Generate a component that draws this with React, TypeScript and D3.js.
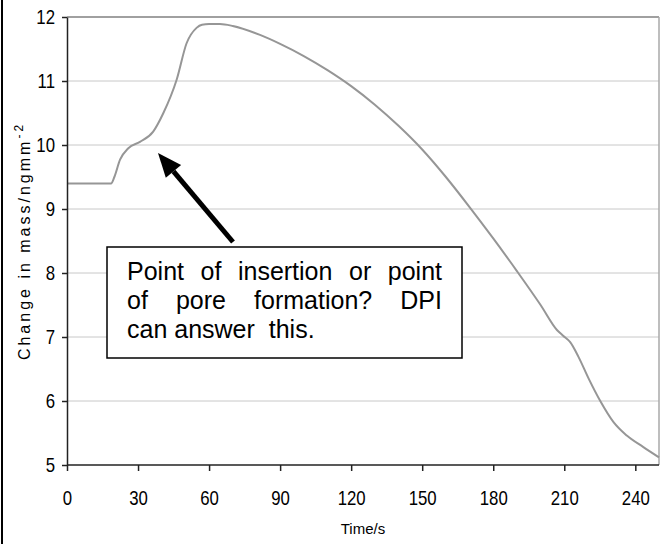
import React, { useEffect, useRef } from 'react';
import * as d3 from 'd3';

// time (s) and mass change
const timeS = [0, 10, 18.6, 20, 22.4, 25.9, 30.8, 36.4, 40.7, 46.3, 50.5, 54.7, 57, 60, 64.6, 70, 81.5, 90, 100, 110, 120, 130, 140, 150, 160, 170, 180, 190, 200, 206.9, 209.5, 212.5, 216, 220.3, 225.2, 230.8, 236.4, 243.4, 250];
const massChange = [9.4, 9.4, 9.4, 9.5, 9.77, 9.95, 10.05, 10.21, 10.5, 11.02, 11.59, 11.83, 11.88, 11.89, 11.89, 11.86, 11.72, 11.58, 11.39, 11.17, 10.92, 10.63, 10.3, 9.93, 9.5, 9.03, 8.54, 8.03, 7.5, 7.11, 7.02, 6.92, 6.69, 6.35, 6.0, 5.67, 5.46, 5.28, 5.12];

const xTicks = [0, 30, 60, 90, 120, 150, 180, 210, 240];
const yTicks = [5, 6, 7, 8, 9, 10, 11, 12];
const noteLines = ['Point of insertion or point', 'of pore formation? DPI', 'can answer  this.'];

const W = 665;
const H = 544;
const margin = { top: 17, right: 6, bottom: 79, left: 67 };
const font = '"Liberation Sans", Arial, sans-serif';
const narrow = 0.84;

const App = () => {
  const ref = useRef<SVGSVGElement>(null);

  useEffect(() => {
    const svg = d3.select(ref.current);
    svg.selectAll('*').remove();

    const x = d3.scaleLinear().domain([0, 250]).range([margin.left, W - margin.right]);
    const y = d3.scaleLinear().domain([5, 12]).range([H - margin.bottom, margin.top]);

    svg.append('rect').attr('width', W).attr('height', H).attr('fill', '#fff');
    // left frame edge
    svg.append('line').attr('x1', 2).attr('x2', 2).attr('y1', 0).attr('y2', H)
      .attr('stroke', '#000').attr('stroke-width', 2);

    // gridlines
    svg.append('g').selectAll('line')
      .data(yTicks.filter(d => d > 5 && d < 12))
      .enter().append('line')
      .attr('x1', x(0)).attr('x2', x(250))
      .attr('y1', d => y(d)).attr('y2', d => y(d))
      .attr('stroke', '#c8c8c8').attr('stroke-width', 1);

    // top and right border
    svg.append('line').attr('x1', x(0)).attr('x2', x(250)).attr('y1', y(12)).attr('y2', y(12))
      .attr('stroke', '#808080').attr('stroke-width', 1.5);
    svg.append('line').attr('x1', x(250)).attr('x2', x(250)).attr('y1', y(12)).attr('y2', y(5))
      .attr('stroke', '#a8a8a8').attr('stroke-width', 1.5);

    // data line
    const line = d3.line<number>()
      .x((d, i) => x(timeS[i]))
      .y(d => y(d))
      .curve(d3.curveMonotoneX);
    svg.append('path')
      .attr('d', line(massChange))
      .attr('fill', 'none')
      .attr('stroke', '#969696')
      .attr('stroke-width', 2);

    // axes
    const xAxis = svg.append('g')
      .attr('transform', `translate(0,${y(5)})`)
      .call(d3.axisBottom(x).tickValues(xTicks).tickFormat(d3.format('d')).tickSize(6).tickSizeOuter(0).tickPadding(20));
    const yAxis = svg.append('g')
      .attr('transform', `translate(${x(0)},0)`)
      .call(d3.axisLeft(y).tickValues(yTicks).tickFormat(d3.format('d')).tickSize(5).tickSizeOuter(0).tickPadding(7));
    [xAxis, yAxis].forEach(g => {
      g.select('.domain').attr('stroke', '#222').attr('stroke-width', 1.5);
      g.selectAll('.tick line').attr('stroke', '#222').attr('stroke-width', 1.5);
      g.selectAll('.tick text').attr('fill', '#000')
        .style('font-family', font).style('font-size', '20px');
    });
    // squeeze tick digits a little (narrow face)
    xAxis.selectAll('.tick text').attr('transform', `scale(${narrow},1)`);
    yAxis.selectAll('.tick text')
      .attr('x', -12 / narrow)
      .attr('transform', `scale(${narrow},1)`);
    xAxis.select('.domain').attr('d', `M${x(0)},0H${x(250)}`);

    svg.append('text')
      .attr('x', (x(0) + x(250)) / 2).attr('y', 534)
      .attr('text-anchor', 'middle')
      .style('font-family', font).style('font-size', '15px')
      .text('Time/s');

    const yLabel = svg.append('text')
      .attr('transform', `translate(30,${(y(5) + y(12)) / 2}) rotate(-90)`)
      .attr('text-anchor', 'middle')
      .style('font-family', font).style('font-size', '16px')
      .style('letter-spacing', '3px');
    yLabel.append('tspan').text('Change in mass/ngmm');
    yLabel.append('tspan').attr('dy', -7).style('font-size', '12px').text('-2');

    // arrow
    const tip = [158, 153];
    const tail = [233, 242];
    const ang = Math.atan2(tail[1] - tip[1], tail[0] - tip[0]);
    const headLen = 24;
    const headW = 10;
    const bx = tip[0] + headLen * Math.cos(ang);
    const by = tip[1] + headLen * Math.sin(ang);
    svg.append('line')
      .attr('x1', tail[0]).attr('y1', tail[1]).attr('x2', bx).attr('y2', by)
      .attr('stroke', '#000').attr('stroke-width', 5);
    svg.append('polygon')
      .attr('points', [
        tip,
        [bx + headW * Math.sin(ang), by - headW * Math.cos(ang)],
        [bx - headW * Math.sin(ang), by + headW * Math.cos(ang)],
      ].map(p => p.join(',')).join(' '))
      .attr('fill', '#000');

    // note box
    const box = { x: 107, y: 247, w: 355, h: 111 };
    svg.append('rect')
      .attr('x', box.x).attr('y', box.y).attr('width', box.w).attr('height', box.h)
      .attr('fill', '#fff').attr('stroke', '#000').attr('stroke-width', 1.5);

    const pad = 20;
    const innerW = box.w - pad * 2;
    const fs = '25px';
    noteLines.forEach((ln, i) => {
      const yy = box.y + 33 + i * 29;
      if (i === noteLines.length - 1) {
        svg.append('text')
          .attr('x', box.x + pad).attr('y', yy)
          .style('font-family', font).style('font-size', fs)
          .style('white-space', 'pre')
          .text(ln);
        return;
      }
      const words = ln.split(/\s+/);
      const nodes = words.map(w => svg.append('text')
        .attr('y', yy)
        .style('font-family', font).style('font-size', fs)
        .text(w));
      const widths = nodes.map(n => (n.node() as SVGTextElement).getComputedTextLength());
      const gap = (innerW - d3.sum(widths)) / (words.length - 1);
      let cx = box.x + pad;
      nodes.forEach((n, j) => {
        n.attr('x', cx);
        cx += widths[j] + gap;
      });
    });
  }, []);

  return (
    <svg ref={ref} width={W} height={H} style={{ position: 'absolute', left: 0, top: 0 }} />
  );
};

export default App;
